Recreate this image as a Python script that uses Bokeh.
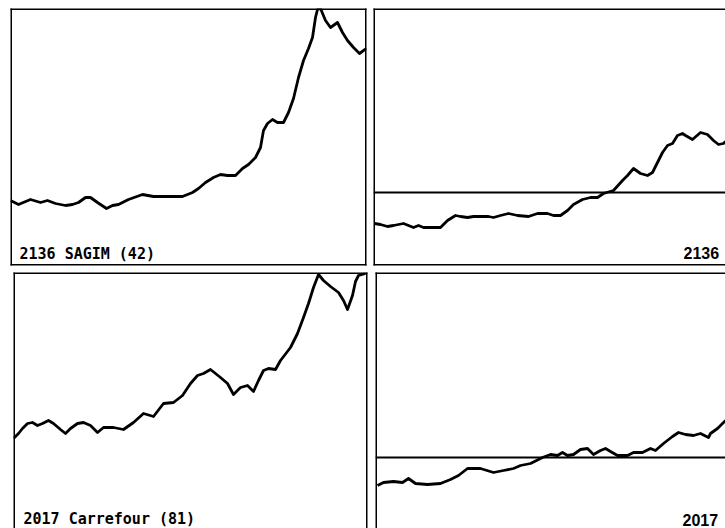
from bokeh.plotting import figure
from bokeh.models import Range1d, Span, Label
from bokeh.layouts import column, row
from bokeh.embed import file_html
from bokeh.resources import INLINE

# ---- data (time in days from panel start, level values) ----
sagim_t = [0, 8, 20, 30, 37, 45, 55, 62, 68, 75, 80, 87, 96, 102, 108, 118, 132, 143, 172, 182,
           188, 195, 203, 210, 217, 225, 232, 238, 245, 250, 253, 257, 262, 267, 273, 278, 283, 288,
           293, 298, 302, 305, 307, 310, 315, 320, 327, 332, 337, 343, 349, 356]
sagim_v = [65, 61, 66, 63, 65, 62, 60, 61, 63, 68, 68, 63, 57, 60, 61, 66, 71, 69, 69, 73,
           77, 83, 88, 91, 90, 90, 97, 101, 108, 118, 135, 142, 146, 143, 143, 153, 167, 188,
           205, 217, 228, 248, 256, 257, 245, 238, 243, 233, 225, 218, 212, 217]

sagim_rel_t = [1, 7, 14, 20, 30, 35, 40, 45, 50, 67, 74, 82, 87, 94, 100, 115, 120, 127, 135, 144,
               155, 164, 174, 180, 187, 194, 200, 209, 217, 224, 230, 240, 249, 254, 260, 267, 274,
               279, 284, 289, 294, 299, 304, 309, 312, 319, 327, 334, 340, 345, 350, 352]
sagim_rel_v = [42, 41, 39, 40, 42, 40, 38, 40, 38, 38, 45, 50, 49, 48, 49, 49, 48, 50, 52, 50,
               49, 52, 52, 50, 50, 55, 61, 66, 68, 68, 72, 75, 85, 90, 97, 92, 90,
               93, 103, 113, 120, 122, 130, 132, 130, 126, 133, 131, 125, 121, 122, 124]
sagim_ref = 73

carre_t = [0, 5, 9, 14, 19, 24, 29, 35, 40, 47, 52, 57, 64, 70, 77, 84, 90, 100, 110, 120,
           130, 140, 150, 160, 169, 177, 184, 190, 197, 207, 214, 220, 227, 234, 240, 245, 250,
           255, 262, 267, 277, 284, 290, 295, 300, 305, 310, 317, 325, 330, 334, 339, 342, 345, 352]
carre_v = [90, 95, 100, 105, 106, 103, 105, 108, 105, 99, 95, 100, 105, 106, 103, 96, 101, 101, 99, 106,
           115, 112, 125, 126, 133, 145, 153, 155, 159, 151, 145, 134, 141, 143, 137, 148, 158,
           160, 159, 168, 181, 195, 211, 225, 241, 254, 248, 242, 236, 228, 219, 233, 247, 253, 255]

carre_rel_t = [2, 8, 18, 27, 33, 40, 52, 65, 75, 83, 92, 105, 118, 128, 138, 145, 155, 167, 175, 182,
               187, 192, 198, 205, 212, 218, 225, 230, 235, 242, 252, 258, 267, 275, 280, 288, 297,
               303, 310, 318, 325, 333, 335, 342, 347, 350]
carre_rel_v = [43, 46, 47, 46, 50, 45, 44, 45, 49, 53, 60, 60, 56, 58, 60, 63, 65, 71, 74, 73,
               76, 73, 74, 79, 80, 74, 78, 80, 77, 73, 73, 76, 76, 80, 78, 85, 92,
               96, 94, 93, 95, 91, 95, 100, 105, 108]
carre_ref = 71

labels_left = ["2136 SAGIM (42)", "2017 Carrefour (81)"]
labels_right = ["2136", "2017"]

INK = "black"


def panel(width, height, xmax, ymax, left, right, top, bottom):
    p = figure(width=width, height=height,
               x_range=Range1d(0, xmax), y_range=Range1d(0, ymax),
               output_backend="svg", toolbar_location=None,
               x_axis_location=None, y_axis_location=None,
               min_border_left=left, min_border_right=right,
               min_border_top=top, min_border_bottom=bottom)
    p.grid.visible = False
    p.outline_line_color = None
    p.background_fill_color = "white"
    p.border_fill_color = "white"
    return p


def border(p, sides):
    for s in sides:
        if s == "left":
            sp = Span(location=p.x_range.start, dimension="height")
        elif s == "right":
            sp = Span(location=p.x_range.end, dimension="height")
        elif s == "top":
            sp = Span(location=p.y_range.end, dimension="width")
        else:
            sp = Span(location=p.y_range.start, dimension="width")
        sp.line_color = INK
        sp.line_width = 3
        sp.line_cap = "square"
        p.add_layout(sp)


mono = dict(text_font="DejaVu Sans Mono", text_font_style="bold",
            text_font_size="15px", text_color=INK, text_baseline="alphabetic")
sans = dict(text_font="Liberation Sans", text_font_style="bold",
            text_font_size="16px", text_color=INK, text_baseline="alphabetic")

# top-left
p1 = panel(369, 268, 356, 257, 10, 3, 8, 3)
p1.line(sagim_t, sagim_v, line_color=INK, line_width=2.8, line_join="round")
border(p1, ["left", "right", "top", "bottom"])
p1.add_layout(Label(x=9, y=12, text=labels_left[0], **mono))

# top-right
p2 = panel(356, 268, 352, 257, 4, 0, 8, 3)
p2.add_layout(Span(location=sagim_ref, dimension="width", line_color=INK, line_width=2))
p2.line(sagim_rel_t, sagim_rel_v, line_color=INK, line_width=2.8, line_join="round")
border(p2, ["left", "top", "bottom"])
p2.add_layout(Label(x=310, y=13, text=labels_right[0], **sans))

# bottom-left
p3 = panel(369, 260, 354, 256, 13, 2, 4, 0)
p3.line(carre_t, carre_v, line_color=INK, line_width=2.8, line_join="round")
border(p3, ["left", "right", "top"])
p3.add_layout(Label(x=10, y=10, text=labels_left[1], **mono))

# bottom-right
p4 = panel(356, 260, 350, 256, 6, 0, 4, 0)
p4.add_layout(Span(location=carre_ref, dimension="width", line_color=INK, line_width=2))
p4.line(carre_rel_t, carre_rel_v, line_color=INK, line_width=2.8, line_join="round")
border(p4, ["left", "top"])
p4.add_layout(Label(x=307, y=9, text=labels_right[1], **sans))

layout = column(row(p1, p2), row(p3, p4))
open("out.html", "w").write(file_html(layout, INLINE))
